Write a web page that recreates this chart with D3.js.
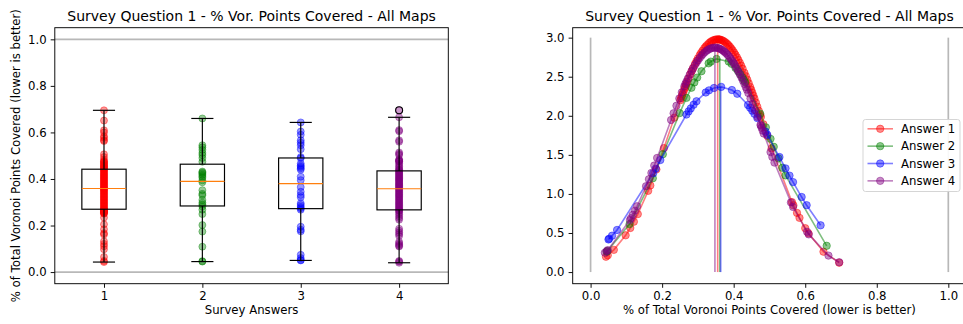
<!DOCTYPE html>
<html>
<head>
<meta charset="utf-8">
<script src="https://cdn.jsdelivr.net/npm/d3@7"></script>
<style>
  html, body { margin: 0; padding: 0; background: #fff; }
  svg { display: block; font-family: "DejaVu Sans", sans-serif; }
</style>
</head>
<body>
<svg id="chart" width="963" height="324"></svg>
<script>
// ---- data: share of Voronoi points covered, per survey answer ----
const answers = [1, 2, 3, 4];
const seriesNames = ["Answer 1", "Answer 2", "Answer 3", "Answer 4"];
const seriesColors = ["red", "green", "blue", "purple"];

const answer1 = [0.043, 0.048, 0.065, 0.098, 0.111, 0.121, 0.132, 0.161, 0.167, 0.184, 0.205, 0.234, 0.251,
  0.253, 0.255, 0.257, 0.259, 0.262, 0.264, 0.266, 0.268,
  0.270, 0.274, 0.279, 0.283, 0.287, 0.292, 0.296, 0.300, 0.305, 0.309, 0.313, 0.318, 0.322, 0.326, 0.331,
  0.335, 0.339, 0.344, 0.348, 0.352, 0.356, 0.359,
  0.361, 0.365, 0.369, 0.373, 0.377, 0.381, 0.385, 0.389, 0.393, 0.397, 0.401, 0.405, 0.409, 0.413, 0.417,
  0.421, 0.425, 0.430, 0.434, 0.438, 0.442, 0.446,
  0.449, 0.452, 0.455, 0.458, 0.462, 0.466, 0.470, 0.474,
  0.476, 0.483, 0.494, 0.506, 0.563, 0.567, 0.577, 0.584, 0.600, 0.609, 0.651, 0.695];

const answer2 = [0.045, 0.047, 0.109, 0.174, 0.202, 0.249, 0.268, 0.282, 0.290, 0.298, 0.310, 0.330, 0.336,
  0.352, 0.386, 0.394, 0.405, 0.412, 0.418, 0.424, 0.428, 0.432, 0.474, 0.490, 0.503, 0.512, 0.525, 0.536,
  0.545, 0.660];

const answer3 = [0.050, 0.052, 0.060, 0.074, 0.175, 0.182, 0.195, 0.268, 0.274, 0.280, 0.288, 0.296, 0.322,
  0.331, 0.345, 0.365, 0.395, 0.410, 0.440, 0.446, 0.452, 0.458, 0.466, 0.489, 0.494, 0.528, 0.545, 0.556,
  0.566, 0.590, 0.604, 0.643];

const answer4 = [0.040, 0.045, 0.048, 0.110, 0.113, 0.118, 0.124, 0.130, 0.155, 0.163, 0.170, 0.178, 0.186, 0.225,
  0.232, 0.240, 0.248, 0.255, 0.262, 0.265,
  0.268, 0.272, 0.277, 0.282, 0.286, 0.291, 0.296, 0.300, 0.305, 0.310, 0.314, 0.319, 0.324, 0.328, 0.333,
  0.337, 0.342, 0.347, 0.351, 0.356,
  0.360, 0.364, 0.368, 0.372, 0.375, 0.379, 0.383, 0.387, 0.391, 0.395, 0.399, 0.402, 0.406, 0.410, 0.414,
  0.418, 0.422, 0.426, 0.430, 0.434, 0.437,
  0.441, 0.447, 0.453, 0.460, 0.467,
  0.475, 0.476, 0.478, 0.481, 0.484, 0.503, 0.508, 0.514, 0.560, 0.566, 0.605, 0.610, 0.665, 0.695];

const boxYTicks = [0, 0.2, 0.4, 0.6, 0.8, 1.0];
const fitXTicks = [0, 0.2, 0.4, 0.6, 0.8, 1.0];
const fitYTicks = [0, 0.5, 1.0, 1.5, 2.0, 2.5, 3.0];

const titleText = "Survey Question 1 - % Vor. Points Covered - All Maps";
const measureLabel = "% of Total Voronoi Points Covered (lower is better)";

const seriesValues = [answer1, answer2, answer3, answer4];

// ---- derived statistics: box-plot quartiles and a fitted normal density ----
const series = seriesValues.map((vals, i) => {
  const s = vals.slice().sort(d3.ascending);
  const q1 = d3.quantile(s, 0.25), med = d3.quantile(s, 0.5), q3 = d3.quantile(s, 0.75);
  const iqr = q3 - q1;
  const hiFence = q3 + 1.5 * iqr, loFence = q1 - 1.5 * iqr;
  const whiskHi = d3.max(s.filter(v => v <= hiFence));
  const whiskLo = d3.min(s.filter(v => v >= loFence));
  const fliers = s.filter(v => v > hiFence || v < loFence);
  const mu = d3.mean(s);
  const sigma = Math.sqrt(d3.mean(s, v => (v - mu) * (v - mu)));
  const pdf = v => Math.exp(-0.5 * ((v - mu) / sigma) ** 2) / (sigma * Math.sqrt(2 * Math.PI));
  return {
    name: seriesNames[i], color: seriesColors[i], pos: answers[i], values: s,
    q1, med, q3, whiskHi, whiskLo, fliers, mu, sigma, peak: pdf(mu),
    fit: s.map(v => [v, pdf(v)])
  };
});

const svg = d3.select("#chart");
const FS_TICK = 11.7, FS_LABEL = 11.7, FS_TITLE = 14;
const TICK_LEN = 4.1, TICK_PAD = 4.1;

function styleAxis(g) {
  g.select(".domain").remove();
  g.selectAll(".tick line").attr("stroke", "#000").attr("stroke-width", 0.94);
  g.selectAll(".tick text").attr("fill", "#000").attr("font-size", FS_TICK)
    .attr("font-family", "DejaVu Sans, sans-serif");
}

// ================= left panel: box plots =================
const L = { x0: 54.8, x1: 448.3, y0: 27.7, y1: 283.7 };
const xBox = d3.scaleLinear().domain([0.5, 4.5]).range([L.x0, L.x1]);
const yBox = d3.scaleLinear().domain([-0.05, 1.05]).range([L.y1, L.y0]);
const gL = svg.append("g");

// reference lines at 0 and 1
[0, 1].forEach(v => {
  gL.append("line").attr("x1", L.x0).attr("x2", L.x1)
    .attr("y1", yBox(v)).attr("y2", yBox(v))
    .attr("stroke", "#b8b8b8").attr("stroke-width", 1.7);
});

// individual answers
series.forEach(s => {
  gL.append("g").selectAll("circle").data(s.values).join("circle")
    .attr("cx", xBox(s.pos)).attr("cy", d => yBox(d)).attr("r", 3.5)
    .attr("fill", s.color).attr("fill-opacity", 0.4)
    .attr("stroke", s.color).attr("stroke-opacity", 0.4).attr("stroke-width", 1);
});

// boxes, whiskers, caps, medians, fliers
const boxW = 0.45, capW = boxW / 2;
series.forEach(s => {
  const g = gL.append("g").attr("fill", "none");
  const xc = xBox(s.pos);
  const bw = xBox(s.pos + boxW / 2) - xc;
  const cw = xBox(s.pos + capW / 2) - xc;
  g.append("rect").attr("x", xc - bw).attr("y", yBox(s.q3))
    .attr("width", 2 * bw).attr("height", yBox(s.q1) - yBox(s.q3))
    .attr("stroke", "#000").attr("stroke-width", 1.17);
  g.append("line").attr("x1", xc).attr("x2", xc).attr("y1", yBox(s.q3)).attr("y2", yBox(s.whiskHi))
    .attr("stroke", "#000").attr("stroke-width", 1.17);
  g.append("line").attr("x1", xc).attr("x2", xc).attr("y1", yBox(s.q1)).attr("y2", yBox(s.whiskLo))
    .attr("stroke", "#000").attr("stroke-width", 1.17);
  [s.whiskHi, s.whiskLo].forEach(v => {
    g.append("line").attr("x1", xc - cw).attr("x2", xc + cw).attr("y1", yBox(v)).attr("y2", yBox(v))
      .attr("stroke", "#000").attr("stroke-width", 1.17);
  });
  g.append("line").attr("x1", xc - bw).attr("x2", xc + bw).attr("y1", yBox(s.med)).attr("y2", yBox(s.med))
    .attr("stroke", "#ff7f0e").attr("stroke-width", 1.17);
  g.selectAll("circle").data(s.fliers).join("circle")
    .attr("cx", xc).attr("cy", d => yBox(d)).attr("r", 3.5)
    .attr("stroke", "#000").attr("stroke-width", 1.1);
});

gL.append("g").attr("transform", `translate(${L.x0},0)`)
  .call(d3.axisLeft(yBox).tickValues(boxYTicks).tickFormat(d3.format(".1f"))
    .tickSize(TICK_LEN).tickPadding(TICK_PAD)).call(styleAxis);
gL.append("g").attr("transform", `translate(0,${L.y1})`)
  .call(d3.axisBottom(xBox).tickValues(answers).tickFormat(d3.format("d"))
    .tickSize(TICK_LEN).tickPadding(TICK_PAD)).call(styleAxis);

gL.append("rect").attr("x", L.x0).attr("y", L.y0).attr("width", L.x1 - L.x0).attr("height", L.y1 - L.y0)
  .attr("fill", "none").attr("stroke", "#000").attr("stroke-width", 0.94);

gL.append("text").attr("x", (L.x0 + L.x1) / 2).attr("y", 20.5).attr("text-anchor", "middle")
  .attr("font-size", FS_TITLE).attr("fill", "#000").text(titleText);
gL.append("text").attr("x", (L.x0 + L.x1) / 2).attr("y", 314).attr("text-anchor", "middle")
  .attr("font-size", FS_LABEL).attr("fill", "#000").text("Survey Answers");
gL.append("text").attr("transform", `translate(19.5,${(L.y0 + L.y1) / 2}) rotate(-90)`)
  .attr("text-anchor", "middle").attr("font-size", FS_LABEL).attr("fill", "#000").text(measureLabel);

// ================= right panel: fitted normal curves =================
const R = { x0: 572.7, x1: 966.2, y0: 27.7, y1: 283.7 };
const topY = d3.max(series, s => s.peak);
const yPadFit = 0.05 * topY;
const xFit = d3.scaleLinear().domain([-0.05, 1.05]).range([R.x0, R.x1]);
const yFit = d3.scaleLinear().domain([-yPadFit, topY + yPadFit]).range([R.y1, R.y0]);
const gR = svg.append("g");

// bounds of the measure
[0, 1].forEach(v => {
  gR.append("line").attr("x1", xFit(v)).attr("x2", xFit(v))
    .attr("y1", yFit(0)).attr("y2", yFit(3))
    .attr("stroke", "#b8b8b8").attr("stroke-width", 1.7);
});

const line = d3.line().x(d => xFit(d[0])).y(d => yFit(d[1]));
series.forEach(s => {
  const g = gR.append("g");
  g.append("path").datum(s.fit).attr("d", line).attr("fill", "none")
    .attr("stroke", s.color).attr("stroke-opacity", 0.5).attr("stroke-width", 1.6);
  g.selectAll("circle").data(s.fit).join("circle")
    .attr("cx", d => xFit(d[0])).attr("cy", d => yFit(d[1])).attr("r", 3.7)
    .attr("fill", s.color).attr("fill-opacity", 0.45)
    .attr("stroke", s.color).attr("stroke-opacity", 0.45).attr("stroke-width", 1);
  g.append("line").attr("x1", xFit(s.mu)).attr("x2", xFit(s.mu))
    .attr("y1", yFit(0)).attr("y2", yFit(s.peak))
    .attr("stroke", s.color).attr("stroke-opacity", 0.5).attr("stroke-width", 1.6);
});

gR.append("g").attr("transform", `translate(${R.x0},0)`)
  .call(d3.axisLeft(yFit).tickValues(fitYTicks).tickFormat(d3.format(".1f"))
    .tickSize(TICK_LEN).tickPadding(TICK_PAD)).call(styleAxis);
gR.append("g").attr("transform", `translate(0,${R.y1})`)
  .call(d3.axisBottom(xFit).tickValues(fitXTicks).tickFormat(d3.format(".1f"))
    .tickSize(TICK_LEN).tickPadding(TICK_PAD)).call(styleAxis);

gR.append("rect").attr("x", R.x0).attr("y", R.y0).attr("width", R.x1 - R.x0).attr("height", R.y1 - R.y0)
  .attr("fill", "none").attr("stroke", "#000").attr("stroke-width", 0.94);

gR.append("text").attr("x", (R.x0 + R.x1) / 2).attr("y", 20.5).attr("text-anchor", "middle")
  .attr("font-size", FS_TITLE).attr("fill", "#000").text(titleText);
gR.append("text").attr("x", (R.x0 + R.x1) / 2).attr("y", 314).attr("text-anchor", "middle")
  .attr("font-size", FS_LABEL).attr("fill", "#000").text(measureLabel);

// legend
const lg = gR.append("g").attr("transform", "translate(863,119.5)");
lg.append("rect").attr("width", 97).attr("height", 72).attr("rx", 2.5)
  .attr("fill", "#fff").attr("fill-opacity", 0.9).attr("stroke", "#d0d0d0").attr("stroke-width", 0.9);
series.forEach((s, i) => {
  const y = 9.3 + i * 17.35;
  lg.append("line").attr("x1", 4.5).attr("x2", 30).attr("y1", y).attr("y2", y)
    .attr("stroke", s.color).attr("stroke-opacity", 0.5).attr("stroke-width", 1.6);
  lg.append("circle").attr("cx", 17.2).attr("cy", y).attr("r", 3.7)
    .attr("fill", s.color).attr("fill-opacity", 0.45)
    .attr("stroke", s.color).attr("stroke-opacity", 0.45).attr("stroke-width", 1);
  lg.append("text").attr("x", 38).attr("y", y).attr("dy", "0.36em")
    .attr("font-size", FS_LABEL).attr("fill", "#000").text(s.name);
});
</script>
</body>
</html>
